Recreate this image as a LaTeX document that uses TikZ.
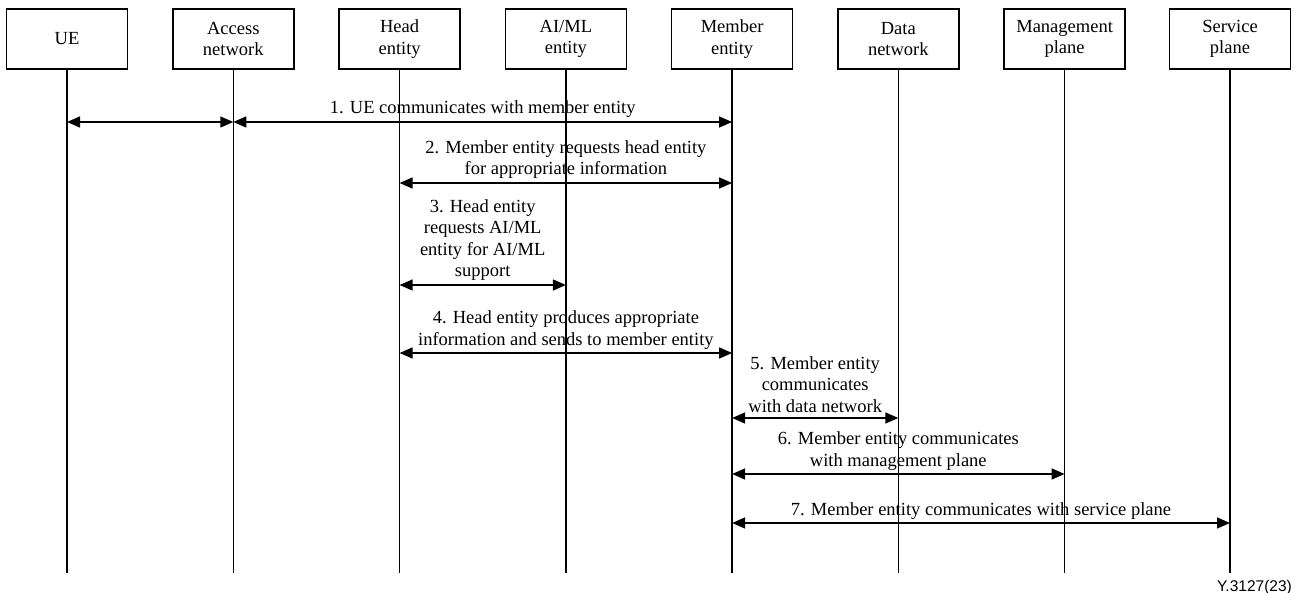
\documentclass[tikz,border=0pt]{standalone}
\usepackage{fontspec}
\setmainfont{Liberation Serif}
\newfontfamily\figfont{Liberation Sans}
\usetikzlibrary{arrows.meta}
\tikzset{
  ent/.style={draw, line width=1.4pt, minimum width=121pt, minimum height=60pt, inner sep=0pt, align=center, font=\fontsize{18.5}{21.5}\selectfont},
  life/.style={line width=1.4pt},
  msg/.style={line width=1.4pt, {Triangle[length=13pt,width=11pt]}-{Triangle[length=13pt,width=11pt]}},
  lbl/.style={anchor=base, inner sep=0pt, align=center, font=\fontsize{18.5}{21.5}\selectfont},
}
\begin{document}
\begin{tikzpicture}[x=1pt,y=-1pt]
\useasboundingbox (0,0) rectangle (1298,593);
% entities
\node[ent] (ue) at (67,39) {UE};
\node[ent] (an) at (233.3,39) {Access\\network};
\node[ent] (he) at (399.6,39) {Head\\entity};
\node[ent] (ai) at (565.9,39) {AI/ML\\entity};
\node[ent] (me) at (732.1,39) {Member\\entity};
\node[ent] (dn) at (898.3,39) {Data\\network};
\node[ent] (mp) at (1064.6,39) {Management\\plane};
\node[ent] (sp) at (1230,39) {Service\\plane};
% lifeline ends
\foreach \n in {ue,an,he,ai,me,dn,mp,sp}{
  \coordinate (\n-end) at (\n |- 0,573);
  \draw[life] (\n.south) -- (\n-end);
}
% messages
\draw[msg] (ue |- 0,122) -- (an |- 0,122);
\draw[msg] (an |- 0,122) -- (me |- 0,122);
\node[lbl] (l1) at (482.7,114) {1. UE communicates with member entity};
\draw[msg] (he |- 0,183) -- (me |- 0,183);
\node[lbl] (l2) at (565.9,175) {2. Member entity requests head entity\\for appropriate information};
\draw[msg] (he |- 0,285) -- (ai |- 0,285);
\node[lbl] (l3) at (482.7,277) {3. Head entity\\requests AI/ML\\entity for AI/ML\\support};
\draw[msg] (he |- 0,353) -- (me |- 0,353);
\node[lbl] (l4) at (565.9,345) {4. Head entity produces appropriate\\information and sends to member entity};
\draw[msg] (me |- 0,418) -- (dn |- 0,418);
\node[lbl] (l5) at (815.2,412) {5. Member entity\\communicates\\with data network};
\draw[msg] (me |- 0,474) -- (mp |- 0,474);
\node[lbl] (l6) at (898.3,466) {6. Member entity communicates\\with management plane};
\draw[msg] (me |- 0,523) -- (sp |- 0,523);
\node[lbl] (l7) at (981,515) {7. Member entity communicates with service plane};
% figure id
\node[anchor=base east, inner sep=0pt, font=\figfont\fontsize{15.5}{18}\selectfont] (fig) at (1292,591) {Y.3127(23)};
\end{tikzpicture}
\end{document}
